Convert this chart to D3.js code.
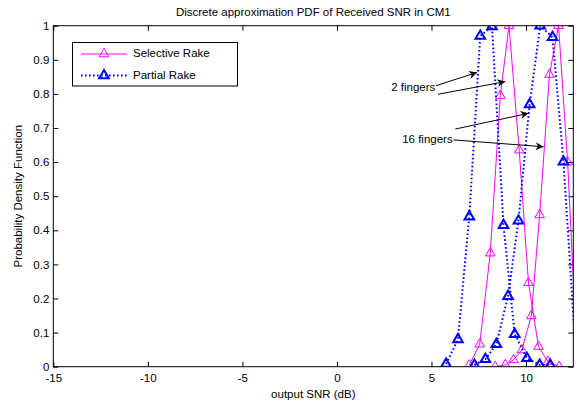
<!DOCTYPE html>
<html>
<head>
<meta charset="utf-8">
<script src="https://cdn.jsdelivr.net/npm/d3@7/dist/d3.min.js"></script>
<style>
  html, body { margin: 0; padding: 0; background: #fff; }
  svg { display: block; font-family: "Liberation Sans", Arial, sans-serif; }
</style>
</head>
<body>
<svg id="chart" width="579" height="402"></svg>
<script>
// Output SNR (dB) and PDF values for each receiver / finger count
const selective2Snr = [7.0, 7.55, 8.11, 8.64, 9.1, 9.64, 10.13, 10.66, 11.16, 11.75];
const selective2Pdf = [0.005, 0.066, 0.333, 0.795, 1.0, 0.635, 0.246, 0.059, 0.015, 0.0];

const selective16Snr = [8.37, 8.9, 9.34, 9.78, 10.28, 10.72, 11.24, 11.72, 12.2, 12.68];
const selective16Pdf = [0.0, 0.005, 0.02, 0.049, 0.149, 0.445, 0.857, 1.0, 0.6, 0.05];

const partial2Snr = [5.77, 6.4, 7.0, 7.58, 8.2, 8.81, 9.4, 10.05, 10.72, 11.28];
const partial2Pdf = [0.008, 0.08, 0.44, 0.97, 0.998, 0.415, 0.095, 0.025, 0.005, 0.005];

const partial16Snr = [7.27, 7.85, 8.43, 9.05, 9.6, 10.19, 10.75, 11.4, 11.98, 12.56];
const partial16Pdf = [0.005, 0.022, 0.066, 0.207, 0.428, 0.769, 1.0, 0.966, 0.601, 0.1];

const xTicks = [-15, -10, -5, 0, 5, 10];
const yTicks = [0, 0.1, 0.2, 0.3, 0.4, 0.5, 0.6, 0.7, 0.8, 0.9, 1];
const xDomain = [-15, 12.5];
const yDomain = [0, 1];

const legendLabels = ["Selective Rake", "Partial Rake"];
const titleText = "Discrete approximation PDF of Received SNR in CM1";
const xLabelText = "output SNR (dB)";
const yLabelText = "Probability Density Function";

// Annotation arrows, in data coordinates: [fromX, fromY, toX, toY]
const notes = [
  { text: "2 fingers", at: [5.2, 0.817], arrows: [[5.24, 0.824, 7.41, 0.863], [5.35, 0.799, 8.9, 0.836]] },
  { text: "16 fingers", at: [6.12, 0.665], arrows: [[6.26, 0.697, 10.13, 0.743], [6.17, 0.665, 10.93, 0.645]] }
];

const MAGENTA = "#ff00ff";
const BLUE = "#0000ff";

const svg = d3.select("#chart");
const margin = { left: 53.3, right: 5.7, top: 25.7, bottom: 35.3 };
const W = 579, H = 402;
const x = d3.scaleLinear().domain(xDomain).range([margin.left, W - margin.right]);
const y = d3.scaleLinear().domain(yDomain).range([H - margin.bottom, margin.top]);

svg.append("rect").attr("width", W).attr("height", H).attr("fill", "#fff");

svg.append("defs").append("clipPath").attr("id", "plotClip")
  .append("rect")
  .attr("x", x(xDomain[0])).attr("y", y(yDomain[1]))
  .attr("width", x(xDomain[1]) - x(xDomain[0]))
  .attr("height", y(yDomain[0]) - y(yDomain[1]));

// Axes: ticks point inward, drawn on all four sides
const tickLen = 5;
const fontSize = "11.5px";
const plain = d => String(d);

const bottomAxis = d3.axisBottom(x).tickValues(xTicks).tickSizeInner(-tickLen).tickSizeOuter(0).tickPadding(7.5).tickFormat(plain);
const topAxis = d3.axisTop(x).tickValues(xTicks).tickSizeInner(-tickLen).tickSizeOuter(0).tickFormat("");
const leftAxis = d3.axisLeft(y).tickValues(yTicks).tickSizeInner(-tickLen).tickSizeOuter(0).tickPadding(4).tickFormat(plain);
const rightAxis = d3.axisRight(y).tickValues(yTicks).tickSizeInner(-tickLen).tickSizeOuter(0).tickFormat("");

function styleAxis(g) {
  g.select(".domain").remove();
  g.selectAll("line").attr("stroke", "#000").attr("stroke-width", 1);
  g.selectAll("text").attr("fill", "#000").style("font-size", fontSize).style("font-family", "Liberation Sans, Arial, sans-serif");
}

svg.append("g").attr("transform", `translate(0,${y(0)})`).call(bottomAxis).call(styleAxis);
svg.append("g").attr("transform", `translate(0,${y(1)})`).call(topAxis).call(styleAxis);
svg.append("g").attr("transform", `translate(${x(xDomain[0])},0)`).call(leftAxis).call(styleAxis);
svg.append("g").attr("transform", `translate(${x(xDomain[1])},0)`).call(rightAxis).call(styleAxis);

// Series
const line = d3.line().x(d => x(d[0])).y(d => y(d[1]));
const triangle = d3.symbol().type(d3.symbolTriangle).size(40);

const series = [
  { snr: selective2Snr, pdf: selective2Pdf, color: MAGENTA, dash: null, lw: 1, mw: 1 },
  { snr: selective16Snr, pdf: selective16Pdf, color: MAGENTA, dash: null, lw: 1, mw: 1 },
  { snr: partial2Snr, pdf: partial2Pdf, color: BLUE, dash: "1.6,2.4", lw: 2, mw: 2 },
  { snr: partial16Snr, pdf: partial16Pdf, color: BLUE, dash: "1.6,2.4", lw: 2, mw: 2 }
];

const plot = svg.append("g").attr("clip-path", "url(#plotClip)");
series.forEach(s => {
  const pts = s.snr.map((v, i) => [v, s.pdf[i]]);
  plot.append("path").datum(pts)
    .attr("d", line)
    .attr("fill", "none")
    .attr("stroke", s.color)
    .attr("stroke-width", s.lw)
    .attr("stroke-dasharray", s.dash);
  plot.selectAll(null).data(pts.filter(p => p[0] <= xDomain[1]))
    .enter().append("path")
    .attr("d", triangle)
    .attr("transform", p => `translate(${x(p[0])},${y(p[1])})`)
    .attr("fill", "none")
    .attr("stroke", s.color)
    .attr("stroke-width", s.mw);
});

// Plot box
svg.append("rect")
  .attr("x", x(xDomain[0])).attr("y", y(yDomain[1]))
  .attr("width", x(xDomain[1]) - x(xDomain[0]))
  .attr("height", y(yDomain[0]) - y(yDomain[1]))
  .attr("fill", "none").attr("stroke", "#000").attr("stroke-width", 1);

// Annotations
svg.append("defs").append("marker")
  .attr("id", "arrowHead")
  .attr("viewBox", "0 0 10 10")
  .attr("refX", 10).attr("refY", 5)
  .attr("markerWidth", 10).attr("markerHeight", 8)
  .attr("markerUnits", "userSpaceOnUse")
  .attr("orient", "auto")
  .append("path").attr("d", "M0,0 L10,5 L0,10 L3,5 Z").attr("fill", "#000");

notes.forEach(n => {
  svg.append("text")
    .attr("x", x(n.at[0])).attr("y", y(n.at[1]))
    .attr("text-anchor", "end")
    .attr("dominant-baseline", "middle")
    .style("font-size", fontSize)
    .text(n.text);
  n.arrows.forEach(a => {
    svg.append("line")
      .attr("x1", x(a[0])).attr("y1", y(a[1]))
      .attr("x2", x(a[2])).attr("y2", y(a[3]))
      .attr("stroke", "#000").attr("stroke-width", 1)
      .attr("marker-end", "url(#arrowHead)");
  });
});

// Legend
const lg = svg.append("g");
lg.append("rect").attr("x", 72.5).attr("y", 42.5).attr("width", 165).attr("height", 43.5)
  .attr("fill", "#fff").attr("stroke", "#000").attr("stroke-width", 1);
const legendItems = [
  { label: legendLabels[0], color: MAGENTA, dash: null, lw: 1, mw: 1, yy: 54 },
  { label: legendLabels[1], color: BLUE, dash: "1.6,2.4", lw: 2, mw: 2, yy: 75.5 }
];
legendItems.forEach(it => {
  lg.append("line").attr("x1", 81).attr("x2", 127).attr("y1", it.yy).attr("y2", it.yy)
    .attr("stroke", it.color).attr("stroke-width", it.lw).attr("stroke-dasharray", it.dash);
  lg.append("path").attr("d", triangle).attr("transform", `translate(104,${it.yy})`)
    .attr("fill", "none").attr("stroke", it.color).attr("stroke-width", it.mw);
  lg.append("text").attr("x", 133).attr("y", it.yy).attr("dominant-baseline", "middle")
    .style("font-size", fontSize).text(it.label);
});

// Titles
const cx = (x(xDomain[0]) + x(xDomain[1])) / 2;
svg.append("text").attr("x", cx).attr("y", 16).attr("text-anchor", "middle")
  .style("font-size", fontSize).text(titleText);
svg.append("text").attr("x", cx).attr("y", 398).attr("text-anchor", "middle")
  .style("font-size", fontSize).text(xLabelText);
svg.append("text")
  .attr("transform", `translate(22,${(y(0) + y(1)) / 2}) rotate(-90)`)
  .attr("text-anchor", "middle")
  .style("font-size", fontSize).text(yLabelText);
</script>
</body>
</html>
